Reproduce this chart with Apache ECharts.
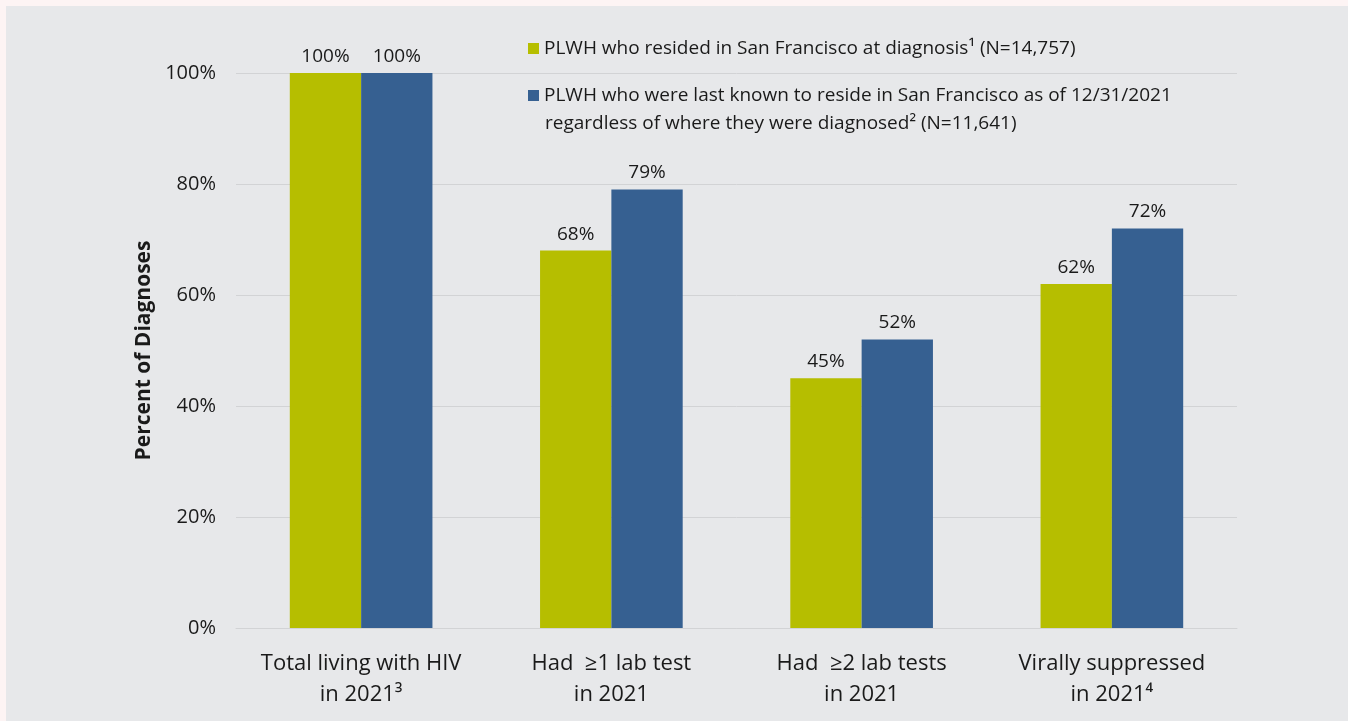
<!DOCTYPE html>
<html>
<head>
<meta charset="utf-8">
<script src="https://cdn.jsdelivr.net/npm/echarts@6/dist/echarts.min.js"></script>
<style>
  html, body { margin: 0; padding: 0; background: #fdf4f4; }
  #wrap { position: absolute; left: 6px; top: 6px; right: 0; bottom: 0; background: #e7e8ea; }
  #chart { position: absolute; left: -6px; top: -6px; width: 1348px; height: 721px; }
</style>
</head>
<body>
<div id="wrap"><div id="chart"></div></div>
<script>
// categories along the x axis
var categories = [
    'Total living with HIV\nin 2021\u00b3',
    'Had  \u22651 lab test\nin 2021',
    'Had  \u22652 lab tests\nin 2021',
    'Virally suppressed\nin 2021\u2074'
];
var seriesNames = [
    'PLWH who resided in San Francisco at diagnosis\u00b9 (N=14,757)',
    'PLWH who were last known to reside in San Francisco as of 12/31/2021'
];
var legendSecondLine = 'regardless of where they were diagnosed\u00b2 (N=11,641)';
var residedAtDiagnosis = [100, 68, 45, 62];
var lastKnownResidence = [100, 79, 52, 72];
var yTicks = [0, 20, 40, 60, 80, 100];

var FONT = '"Open Sans", Lato, sans-serif';
var myChart = echarts.init(document.getElementById('chart'));

var option = {
    backgroundColor: 'transparent',
    textStyle: { fontFamily: FONT },
    legend: {
        orient: 'vertical',
        left: 523,
        top: 34,
        icon: 'rect',
        itemWidth: 11,
        itemHeight: 11,
        itemGap: 28,
        textStyle: { fontSize: 19, color: '#1a1a1a', fontFamily: FONT },
        data: seriesNames
    },
    graphic: [{
        type: 'text',
        left: 545,
        top: 114,
        style: { text: legendSecondLine, fontSize: 19, fill: '#1a1a1a', fontFamily: FONT }
    }],
    grid: { left: 236, right: 111, top: 73, bottom: 93 },
    xAxis: {
        type: 'category',
        data: categories,
        axisLine: { show: true, lineStyle: { color: '#d2d3d5' } },
        axisTick: { show: false },
        axisLabel: { interval: 0, fontSize: 22, color: '#1a1a1a', lineHeight: 31, margin: 20, fontFamily: FONT }
    },
    yAxis: {
        type: 'value',
        min: yTicks[0],
        max: yTicks[yTicks.length - 1],
        interval: 20,
        name: 'Percent of Diagnoses',
        nameLocation: 'middle',
        nameGap: 81,
        nameTextStyle: { fontSize: 21, fontWeight: 'bold', color: '#1a1a1a', fontFamily: FONT },
        axisLine: { show: false },
        axisTick: { show: false },
        splitLine: { lineStyle: { color: '#d2d3d5' } },
        axisLabel: { fontSize: 20, color: '#1a1a1a', margin: 20, formatter: '{value}%', fontFamily: FONT }
    },
    series: [
        {
            name: seriesNames[0],
            type: 'bar',
            data: residedAtDiagnosis,
            barGap: '0%',
            barCategoryGap: '43%',
            itemStyle: { color: '#b6be00' },
            label: { show: true, position: 'top', distance: 7, fontSize: 19, color: '#1a1a1a', formatter: '{c}%', fontFamily: FONT }
        },
        {
            name: seriesNames[1],
            type: 'bar',
            data: lastKnownResidence,
            itemStyle: { color: '#366091' },
            label: { show: true, position: 'top', distance: 7, fontSize: 19, color: '#1a1a1a', formatter: '{c}%', fontFamily: FONT }
        }
    ]
};

myChart.setOption(option);
</script>
</body>
</html>
